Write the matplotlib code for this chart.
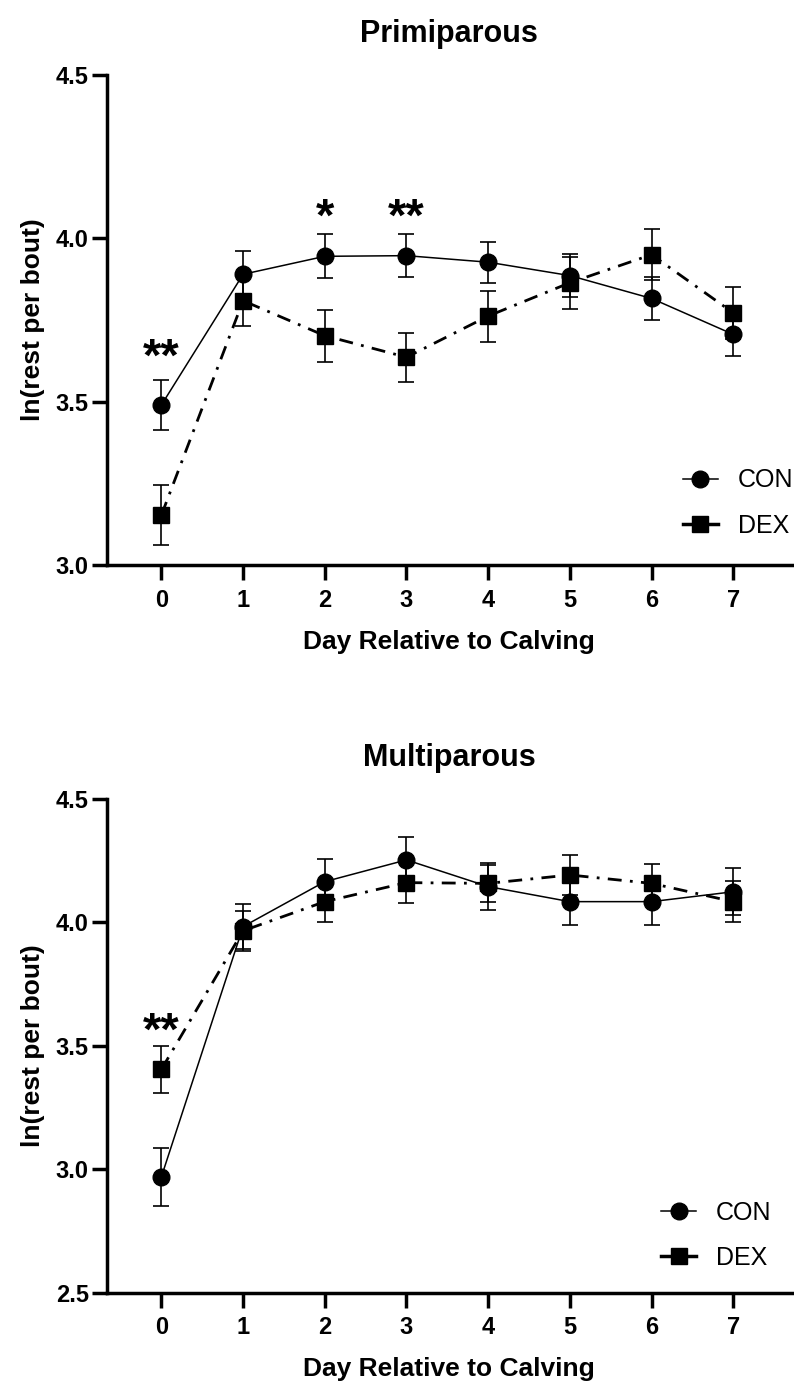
import numpy as np
import matplotlib
matplotlib.use("Agg")
import matplotlib.pyplot as plt
from matplotlib.lines import Line2D

plt.rcParams['font.family'] = ['Liberation Sans', 'DejaVu Sans']
plt.rcParams['font.weight'] = 'bold'

# Data
days = [0, 1, 2, 3, 4, 5, 6, 7]

# Primiparous
con_primi = [3.490, 3.890, 3.945, 3.947, 3.927, 3.886, 3.816, 3.706]
con_primi_se = [0.076, 0.070, 0.067, 0.065, 0.063, 0.066, 0.065, 0.066]
dex_primi = [3.153, 3.809, 3.702, 3.636, 3.762, 3.864, 3.950, 3.772]
dex_primi_se = [0.092, 0.078, 0.080, 0.075, 0.078, 0.080, 0.079, 0.079]
stars_primi = [(0, 3.661, "**"), (2, 4.090, "*"), (3, 4.090, "**")]

# Multiparous
con_multi = [2.970, 3.983, 4.165, 4.253, 4.145, 4.084, 4.084, 4.124]
con_multi_se = [0.117, 0.090, 0.093, 0.094, 0.095, 0.094, 0.094, 0.095]
dex_multi = [3.405, 3.966, 4.084, 4.161, 4.158, 4.192, 4.158, 4.084]
dex_multi_se = [0.095, 0.081, 0.082, 0.084, 0.076, 0.082, 0.079, 0.082]
stars_multi = [(0, 3.592, "**")]


def draw_panel(ax, title, con, con_se, dex, dex_se, stars, ylim, yticks, leg_anchor):
    ax.errorbar(days, con, yerr=con_se, color="black", lw=1.1, marker="o", ms=12,
                elinewidth=1.2, capsize=6, capthick=1.2, zorder=3)
    ax.errorbar(days, dex, yerr=dex_se, color="black", lw=2.0, ls=(0, (5, 3, 1, 3)),
                marker="s", ms=12, elinewidth=1.2, capsize=6, capthick=1.2,
                zorder=3)
    for x, y, s in stars:
        # nudge down a bit, the asterisk glyph sits high in its box
        ax.annotate(s, (x, y), xytext=(0, -7), textcoords="offset points",
                    ha="center", va="center", fontsize=34, fontweight="bold")

    ax.set_xlim(-0.67, 7.72)
    ax.set_ylim(*ylim)
    ax.set_xticks(days)
    ax.set_yticks(yticks)
    ax.set_yticklabels(["%.1f" % v for v in yticks])
    for sp in ["top", "right"]:
        ax.spines[sp].set_visible(False)
    for sp in ["left", "bottom"]:
        ax.spines[sp].set_linewidth(2.5)
    ax.tick_params(axis="both", direction="out", length=11, width=2.5, labelsize=17)
    ax.tick_params(axis="y", pad=2)
    ax.tick_params(axis="x", pad=6)
    ax.set_title(title, fontsize=22, fontweight="bold", pad=24)
    ax.set_xlabel("Day Relative to Calving", fontsize=19, fontweight="bold", labelpad=13)
    ax.set_ylabel("ln(rest per bout)", fontsize=19, fontweight="bold", labelpad=8)

    # legend handles: plain line + marker, no error bars
    h_con = Line2D([], [], color="black", lw=1.1, marker="o", ms=12)
    h_dex = Line2D([], [], color="black", lw=2.5, marker="s", ms=12)
    ax.legend([h_con, h_dex], ["CON", "DEX"], loc="upper left", bbox_to_anchor=leg_anchor,
              bbox_transform=ax.figure.transFigure, frameon=False,
              borderpad=0, borderaxespad=0, handlelength=1.4,
              handletextpad=0.8, labelspacing=0.85,
              prop={"family": "Liberation Sans", "weight": "normal", "size": 18})


fig = plt.figure(figsize=(7.94, 13.82), dpi=100)
ax1 = fig.add_axes([0.1344, 0.5912, 0.8631, 0.3545])
ax2 = fig.add_axes([0.1344, 0.0646, 0.8631, 0.3573])

draw_panel(ax1, "Primiparous", con_primi, con_primi_se, dex_primi, dex_primi_se,
           stars_primi, (3.0, 4.5), [3.0, 3.5, 4.0, 4.5], (0.860, 0.661))
draw_panel(ax2, "Multiparous", con_multi, con_multi_se, dex_multi, dex_multi_se,
           stars_multi, (2.5, 4.5), [2.5, 3.0, 3.5, 4.0, 4.5], (0.8325, 0.1312))

fig.savefig("out.png", dpi=100)
